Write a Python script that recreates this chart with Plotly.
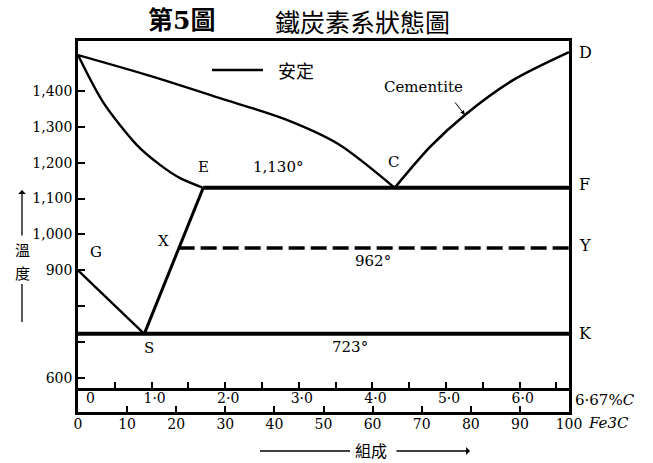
import plotly.graph_objects as go

# ---- composition (Fe3C %) / temperature (°C) of the phase boundaries ----
liquidus_x = [0, 14.7, 28.9, 42.0, 53.0, 64.5]
liquidus_t = [1500, 1442, 1380, 1322, 1252, 1130]

solidus_x = [0, 5.1, 12.0, 16.7, 20.8, 25.5]
solidus_t = [1500, 1369, 1249, 1194, 1157, 1130]

cementite_x = [64.5, 71.7, 78.8, 88.6, 100]
cementite_t = [1130, 1244, 1333, 1430, 1508]

gs_x = [0, 13.5]
gs_t = [900, 723]

se_x = [13.5, 25.5]
se_t = [723, 1130]

eutectic_x = [25.5, 100]
eutectic_t = [1130, 1130]

line962_x = [20.5, 100]
line962_t = [962, 962]

eutectoid_x = [0, 100]
eutectoid_t = [723, 723]

# axis ticks
temp_ticks = [600, 700, 800, 900, 1000, 1100, 1200, 1300, 1400]
temp_text = ["600", "", "", "900", "1,000", "1,100", "1,200", "1,300", "1,400"]
fe3c_ticks = [0, 10, 20, 30, 40, 50, 60, 70, 80, 90, 100]
carbon_ticks = [0.5, 1.0, 1.5, 2.0, 2.5, 3.0, 3.5, 4.0, 4.5, 5.0, 5.5, 6.0, 6.5]
carbon_text = ["", "1·0", "", "2·0", "", "3·0", "", "4·0", "", "5·0", "", "6·0", ""]

W, H = 653, 463
L, R, T, B = 78, 569, 41, 412  # plot area in pixels

SERIF = "DejaVu Serif, Noto Sans CJK TC"
CJK = "Noto Sans CJK TC, DejaVu Serif"


def pxx(x):
    return (x - L) / (R - L)


def pxy(y):
    return (B - y) / (B - T)


fig = go.Figure()


def add_line(x, t, width, dash="solid", spline=False):
    fig.add_trace(go.Scatter(
        x=x, y=t, mode="lines",
        line=dict(color="black", width=width, dash=dash,
                  shape="spline" if spline else "linear", smoothing=0.8),
        hoverinfo="skip", showlegend=False, cliponaxis=False))


add_line(liquidus_x, liquidus_t, 2.4, spline=True)
add_line(solidus_x, solidus_t, 2.4, spline=True)
add_line(cementite_x, cementite_t, 2.6, spline=True)
add_line(gs_x, gs_t, 2.4)
add_line(se_x, se_t, 3)
add_line(eutectic_x, eutectic_t, 4)
add_line(eutectoid_x, eutectoid_t, 4)
add_line(line962_x, line962_t, 3.5, dash="16px,6px")

# carries the %C scale
fig.add_trace(go.Scatter(x=[0, 6.67], y=[600, 600], xaxis="x2", mode="markers",
                         marker=dict(opacity=0), hoverinfo="skip", showlegend=False))

anns = []


def label(text, x, y, size=15, xshift=0, yshift=0, xref="x", yref="y",
          xanchor="center", family=SERIF, **kw):
    anns.append(dict(text=text, x=x, y=y, xref=xref, yref=yref, showarrow=False,
                     xanchor=xanchor, yanchor="middle", xshift=xshift, yshift=yshift,
                     font=dict(family=family, size=size, color="black"), **kw))


# point labels
label("G", gs_x[0], gs_t[0], xshift=18, yshift=18)
label("X", line962_x[0], line962_t[0], xshift=-15, yshift=7)
label("S", se_x[0], se_t[0], xshift=5, yshift=-14)
label("E", se_x[1], se_t[1], yshift=21)
label("C", liquidus_x[-1], liquidus_t[-1], xshift=-1, yshift=26)
label("1,130°", 40.7, eutectic_t[0], yshift=21)
label("962°", 60.1, line962_t[0], yshift=-13)
label("723°", 55.4, eutectoid_t[0], yshift=-13)
label("D", 100, cementite_t[-1], xshift=8, xanchor="left", size=16)
label("F", 100, eutectic_t[0], xshift=8, xanchor="left", size=16, yshift=3)
label("Y", 100, line962_t[0], xshift=8, xanchor="left", size=16, yshift=3)
label("K", 100, eutectoid_t[0], xshift=8, xanchor="left", size=16)
label("Cementite", 70.3, 1411, size=15)

# arrow pointing at the cementite curve
anns.append(dict(x=cementite_x[2], y=cementite_t[2], xref="x", yref="y",
                 ax=-11, ay=-14, text="", showarrow=True, arrowhead=2,
                 arrowsize=0.9, arrowwidth=1, arrowcolor="black"))

# %C scale zero and units
label("0", 0, pxy(398), xref="x2", yref="paper", xshift=12, size=14)
label("6·67%<i>C</i>", pxx(573), pxy(400), xref="paper", yref="paper",
      xanchor="left", size=15)
label("<i>Fe3C</i>", pxx(586), pxy(423), xref="paper", yref="paper",
      xanchor="left", size=15)

# title
label("<b>第5圖</b>", pxx(181), pxy(21), xref="paper", yref="paper", size=25)
label("鐵炭素系狀態圖", pxx(362), pxy(21), xref="paper", yref="paper", size=25,
      family=CJK)

# key
label("安定", pxx(296), pxy(70), xref="paper", yref="paper", size=18, family=CJK)

# temperature axis title
label("溫", pxx(22), pxy(250), xref="paper", yref="paper", size=15, family=CJK)
label("度", pxx(22), pxy(272), xref="paper", yref="paper", size=15, family=CJK)
anns.append(dict(x=pxx(22), y=pxy(190), xref="paper", yref="paper",
                 ax=0, ay=47, text="", showarrow=True, arrowhead=1,
                 arrowsize=1, arrowwidth=1.3, arrowcolor="black"))

# composition axis title
label("組成", pxx(371), pxy(450), xref="paper", yref="paper", size=16,
      family=CJK)
anns.append(dict(x=pxx(470), y=pxy(451), xref="paper", yref="paper",
                 ax=-75, ay=0, text="", showarrow=True, arrowhead=1,
                 arrowsize=1, arrowwidth=1.3, arrowcolor="black"))

shapes = [
    dict(type="line", xref="paper", yref="paper", x0=pxx(212), x1=pxx(263),
         y0=pxy(70), y1=pxy(70), line=dict(color="black", width=2.5)),
    dict(type="line", xref="paper", yref="paper", x0=pxx(22), x1=pxx(22),
         y0=pxy(284), y1=pxy(322), line=dict(color="black", width=1.3)),
    dict(type="line", xref="paper", yref="paper", x0=pxx(260), x1=pxx(350),
         y0=pxy(451), y1=pxy(451), line=dict(color="black", width=1.3)),
]

tickfont = dict(family=SERIF, size=14, color="black")

fig.update_layout(
    width=W, height=H,
    margin=dict(l=L, r=W - R, t=T, b=H - B),
    paper_bgcolor="white", plot_bgcolor="white",
    showlegend=False,
    annotations=anns, shapes=shapes,
    xaxis=dict(range=[0, 100], tickvals=fe3c_ticks, ticks="inside", ticklen=6,
               tickwidth=1.5, tickcolor="black", showline=True, mirror=True,
               linewidth=2.5, linecolor="black", showgrid=False, zeroline=False,
               tickfont=tickfont, ticklabelstandoff=-3),
    xaxis2=dict(range=[0, 6.67], overlaying="x", anchor="free",
                position=pxy(389), side="bottom", tickvals=carbon_ticks,
                ticktext=carbon_text, ticks="inside", ticklen=6, tickwidth=1.5,
                tickcolor="black", showline=True, linewidth=2.5,
                linecolor="black", showgrid=False, zeroline=False,
                tickfont=tickfont, ticklabelstandoff=-5, ticklabelshift=3),
    yaxis=dict(range=[505.2, 1539.2], tickvals=temp_ticks, ticktext=temp_text,
               ticks="inside", ticklen=7, tickwidth=1.5, tickcolor="black",
               showline=True, mirror=True, linewidth=2.5, linecolor="black",
               showgrid=False, zeroline=False, tickfont=tickfont),
)

fig.write_html("out.html")
